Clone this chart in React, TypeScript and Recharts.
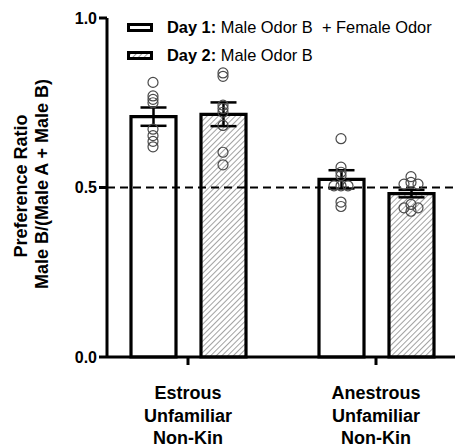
import React from "react";
import {
  ComposedChart,
  Bar,
  XAxis,
  YAxis,
  ErrorBar,
  Scatter,
  ReferenceLine,
  Legend,
} from "recharts";

const FONT = "'Liberation Sans', Arial, Helvetica, sans-serif";

const groups = ["Estrous Unfamiliar Non-Kin", "Anestrous Unfamiliar Non-Kin"];
const groupLines = [
  ["Estrous", "Unfamiliar", "Non-Kin"],
  ["Anestrous", "Unfamiliar", "Non-Kin"],
];

const day1Mean = [0.709, 0.524];
const day1Sem = [0.027, 0.027];
const day2Mean = [0.716, 0.482];
const day2Sem = [0.035, 0.011];

// individual animals, with a horizontal slot for overlapping circles
const day1Points = [
  [0.81, 0.77, 0.76, 0.75, 0.672, 0.653, 0.636, 0.62],
  [0.644, 0.56, 0.545, 0.535, 0.505, 0.505, 0.505, 0.457, 0.444],
];
const day1Spread = [
  [0, 0, 0, 0, 0, 0, 0, 0],
  [0, 0, 0, 0, -1, 0, 1, 0, 0],
];
const day2Points = [
  [0.838, 0.828, 0.743, 0.733, 0.722, 0.683, 0.604, 0.567],
  [0.532, 0.515, 0.51, 0.51, 0.45, 0.44, 0.44, 0.43],
];
const day2Spread = [
  [0, 0, 0, 0, 0, 0, 0, 0],
  [0, 0, -1, 1, 0, -1, 1, 0],
];

const yTicks = [0, 0.5, 1];
const chance = 0.5;
const legendBold = ["Day 1:", "Day 2:"];
const legendText = ["Male Odor B\u00a0 + Female Odor", "Male Odor B"];

const data = groups.map((name, i) => ({
  name,
  day1: day1Mean[i],
  day1Sem: day1Sem[i],
  day2: day2Mean[i],
  day2Sem: day2Sem[i],
}));

const BAR = 45;
const GAP = 25;
const BAND = 188;
const SLOT = 7;
const PAD = { left: -13, right: -15 };

function dots(points: number[][], spread: number[][], side: number) {
  return points.flatMap((vals, g) =>
    vals.map((v, k) => ({
      x: g + 0.5 + (side * (BAR + GAP) / 2 + spread[g][k] * SLOT) / BAND,
      y: v,
    }))
  );
}

const dotData = [...dots(day1Points, day1Spread, -1), ...dots(day2Points, day2Spread, 1)];

const Dot = (p: any) => (
  <circle cx={p.cx} cy={p.cy} r={5} fill="none" stroke="#4a4a4a" strokeWidth={1.2} />
);

const XTick = ({ x, y, payload }: any) => {
  const lines = groupLines[groups.indexOf(payload.value)] || [];
  return (
    <text textAnchor="middle" fontSize={18} fontWeight="bold" fill="#000" fontFamily={FONT}>
      {lines.map((t, k) => (
        <tspan key={k} x={x} y={y + 32 + k * 22.5}>
          {t}
        </tspan>
      ))}
    </text>
  );
};

const YLabel = () => (
  <g fontFamily={FONT} fontWeight="bold" fontSize={18} fill="#000" textAnchor="middle">
    <text x={27} y={186} transform="rotate(-90 27 186)">
      Preference Ratio
    </text>
    <text x={48} y={184} transform="rotate(-90 48 184)">
      Male B/(Male A + Male B)
    </text>
  </g>
);

const Swatch = ({ hatched }: { hatched: boolean }) => (
  <svg width={26} height={9} style={{ marginRight: 14, display: "block" }}>
    <defs>
      <pattern id="lhatch" width={4} height={4} patternUnits="userSpaceOnUse" patternTransform="rotate(45)">
        <rect width={4} height={4} fill="#fff" />
        <line x1={0} y1={0} x2={0} y2={4} stroke="#8a8a8a" strokeWidth={1.6} />
      </pattern>
    </defs>
    <rect x={1.5} y={1.5} width={23} height={6} fill={hatched ? "url(#lhatch)" : "#fff"} stroke="#000" strokeWidth={3} />
  </svg>
);

const LegendBox = () => (
  <div style={{ fontFamily: FONT, fontSize: 16.4, color: "#000" }}>
    {legendBold.map((b, i) => (
      <div key={i} style={{ display: "flex", alignItems: "center", height: 28, whiteSpace: "nowrap" }}>
        <Swatch hatched={i === 1} />
        <span>
          <b>{b}</b> {legendText[i]}
        </span>
      </div>
    ))}
  </div>
);

export default function App() {
  return (
    <div style={{ position: "absolute", left: 0, top: 0, background: "#fff" }}>
      <ComposedChart
        width={455}
        height={447}
        data={data}
        margin={{ top: 18, right: 0, bottom: 10, left: 47 }}
        barSize={BAR}
        barGap={GAP}
      >
        <defs>
          <pattern id="hatch" width={4} height={4} patternUnits="userSpaceOnUse" patternTransform="rotate(45)">
            <rect width={4} height={4} fill="#fff" />
            <line x1={0} y1={0} x2={0} y2={4} stroke="#8a8a8a" strokeWidth={1.6} />
          </pattern>
        </defs>
        <XAxis
          xAxisId="cat"
          dataKey="name"
          type="category"
          padding={PAD}
          height={80}
          interval={0}
          axisLine={{ stroke: "#000", strokeWidth: 3 }}
          tickLine={{ stroke: "#000", strokeWidth: 3 }}
          tickSize={8}
          tick={<XTick />}
        />
        <XAxis xAxisId="pts" dataKey="x" type="number" domain={[0, 2]} padding={PAD} hide />
        <YAxis
          domain={[0, 1]}
          ticks={yTicks}
          width={60}
          interval={0}
          tickFormatter={(v: number) => v.toFixed(1)}
          axisLine={{ stroke: "#000", strokeWidth: 3 }}
          tickLine={{ stroke: "#000", strokeWidth: 3 }}
          tickSize={8}
          tick={{ fill: "#000", fontSize: 16, fontWeight: "bold", fontFamily: FONT }}
          label={<YLabel />}
        />
        <Legend
          layout="vertical"
          verticalAlign="middle"
          align="center"
          content={<LegendBox />}
          wrapperStyle={{ top: 13, left: 127, width: "auto" }}
        />
        <Bar xAxisId="cat" dataKey="day1" fill="#fff" stroke="#000" strokeWidth={3.2} isAnimationActive={false}>
          <ErrorBar dataKey="day1Sem" width={13} stroke="#000" strokeWidth={2.5} isAnimationActive={false} />
        </Bar>
        <Bar xAxisId="cat" dataKey="day2" fill="url(#hatch)" stroke="#000" strokeWidth={3.2} isAnimationActive={false}>
          <ErrorBar dataKey="day2Sem" width={13} stroke="#000" strokeWidth={2.5} isAnimationActive={false} />
        </Bar>
        <ReferenceLine xAxisId="cat" y={chance} stroke="#000" strokeWidth={2} strokeDasharray="8 5" />
        <Scatter xAxisId="pts" data={dotData} dataKey="y" shape={<Dot />} isAnimationActive={false} />
      </ComposedChart>
    </div>
  );
}
